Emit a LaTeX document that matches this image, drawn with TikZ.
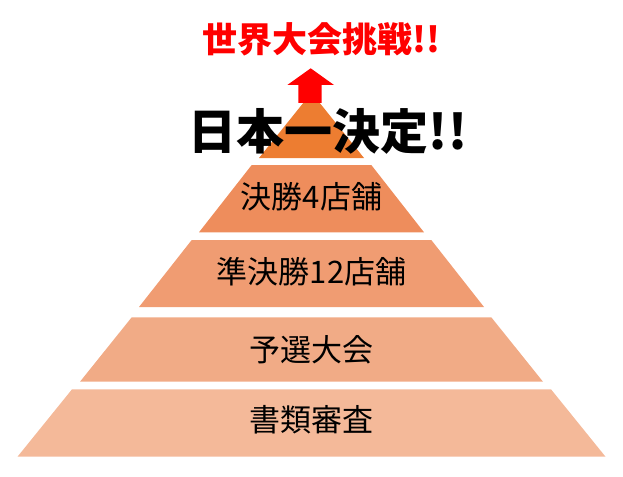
\documentclass[tikz,border=0pt]{standalone}
\usepackage{fontspec}
\setmainfont{Noto Sans CJK JP}
\usetikzlibrary{positioning}

\definecolor{tierE}{RGB}{237,125,49}
\definecolor{tierD}{RGB}{238,141,92}
\definecolor{tierC}{RGB}{240,156,114}
\definecolor{tierB}{RGB}{241,171,134}
\definecolor{tierA}{RGB}{244,185,153}
\definecolor{goalred}{RGB}{255,0,0}

\begin{document}
\begin{tikzpicture}[
  x=1pt, y=-1pt,
  tiertext/.style={inner sep=0pt, text=black, font=\fontsize{31}{31}\selectfont},
  headline/.style={inner sep=0pt, font=\bfseries\fontsize{48}{48}\selectfont},
  goal/.style={inner sep=0pt, text=goalred, font=\bfseries\fontsize{35}{35}\selectfont}
]
\useasboundingbox (0,0) rectangle (623,476);

% pyramid tiers, bottom to top
\fill[tierA] (72,389.3) -- (551,389.3) -- (605.5,456.7) -- (17.5,456.7) -- cycle;
\fill[tierB] (131.7,317.3) -- (491.3,317.3) -- (543,381.7) -- (80,381.7) -- cycle;
\fill[tierC] (191.7,240) -- (431.3,240) -- (484,307) -- (139,307) -- cycle;
\fill[tierD] (251.7,165) -- (371.3,165) -- (424,232.3) -- (199,232.3) -- cycle;
\fill[tierE] (311.5,92.7) -- (364,158) -- (259,158) -- cycle;

% up arrow
\fill[goalred] (298.3,103) -- (298.3,85) -- (287.3,85) -- (310.7,68.3)
  -- (334,85) -- (321.7,85) -- (321.7,103) -- cycle;

\node[tiertext] (docs)   at (311.5,420) {書類審査};
\node[tiertext] (prelim) at (311.5,349.5) {予選大会};
\node[tiertext] (semi)   at (311.5,272) {準決勝12店舗};
\node[tiertext] (final)  at (311.5,197) {決勝4店舗};

\node[headline] (champ) at (328,131) {日本一決定!!};
\node[goal]     (world) at (321.5,39) {世界大会挑戦!!};
\end{tikzpicture}
\end{document}
